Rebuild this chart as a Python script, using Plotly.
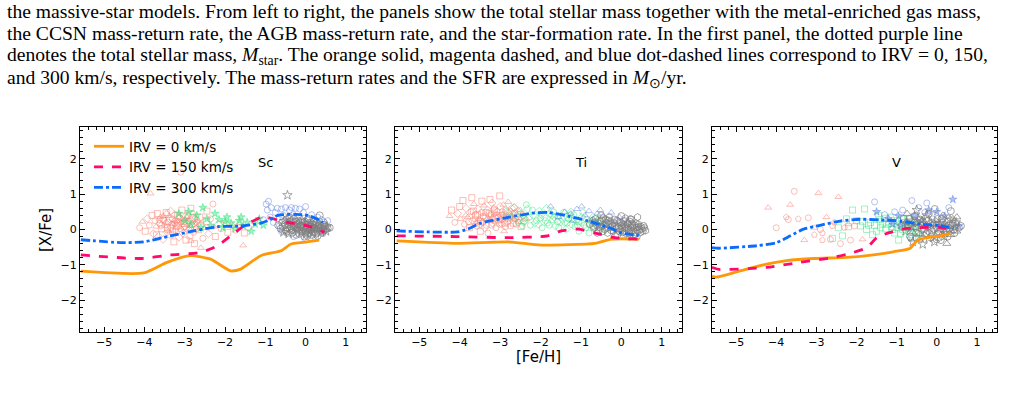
import plotly.graph_objects as go

W, H = 1034, 394

# ---------------- data ----------------
feh_sc_irv0 = [-5.58, -4.02, -3.44, -2.86, -2.36, -1.86, -1.61, -1.11, -0.61, -0.36, -0.11, 0.34]
xfe_sc_irv0 = [-1.18, -1.23, -0.93, -0.74, -0.84, -1.17, -1.12, -0.74, -0.60, -0.41, -0.37, -0.30]
feh_sc_irv150 = [-5.58, -4.10, -3.36, -2.61, -2.19, -1.86, -1.53, -1.11, -0.94, -0.45, 0.05, 0.47]
xfe_sc_irv150 = [-0.72, -0.82, -0.72, -0.65, -0.46, -0.18, 0.10, 0.34, 0.34, 0.20, 0.10, -0.08]
feh_sc_irv300 = [-5.58, -4.60, -4.02, -3.36, -2.77, -2.19, -1.61, -1.11, -0.86, -0.69, -0.28, 0.05, 0.30, 0.43]
xfe_sc_irv300 = [-0.29, -0.37, -0.35, -0.18, -0.04, 0.08, 0.10, 0.18, 0.29, 0.40, 0.43, 0.40, 0.29, 0.20]

feh_ti_irv0 = [-5.56, -4.06, -2.81, -1.98, -0.65, -0.24, 0.43]
xfe_ti_irv0 = [-0.32, -0.39, -0.35, -0.44, -0.39, -0.27, -0.27]
feh_ti_irv150 = [-5.56, -4.06, -2.81, -1.82, -1.49, -1.07, -0.65, -0.16, 0.43]
xfe_ti_irv150 = [-0.18, -0.20, -0.23, -0.18, -0.04, 0.01, -0.10, -0.23, -0.27]
feh_ti_irv300 = [-5.56, -4.06, -3.81, -3.48, -2.81, -2.23, -1.82, -1.32, -0.82, -0.32, 0.01, 0.43]
xfe_ti_irv300 = [-0.04, -0.07, 0.01, 0.18, 0.34, 0.46, 0.48, 0.38, 0.24, 0.06, -0.10, -0.17]

feh_v_irv0 = [-5.60, -5.50, -4.90, -4.24, -3.74, -3.07, -2.24, -1.58, -1.08, -0.66, -0.50, -0.25, 0.08, 0.29, 0.33]
xfe_v_irv0 = [-1.32, -1.35, -1.17, -0.98, -0.88, -0.82, -0.79, -0.72, -0.63, -0.53, -0.32, -0.23, -0.18, -0.13, -0.10]
feh_v_irv150 = [-5.60, -5.43, -4.24, -3.41, -2.58, -2.08, -1.74, -1.49, -1.16, -0.74, -0.25, 0.08, 0.42]
xfe_v_irv150 = [-1.07, -1.13, -1.07, -0.93, -0.79, -0.65, -0.51, -0.23, -0.08, 0.03, 0.06, 0.06, -0.01]
feh_v_irv300 = [-5.60, -5.43, -4.49, -3.99, -3.65, -3.32, -2.91, -2.41, -1.91, -1.41, -0.91, -0.41, 0.08, 0.42]
xfe_v_irv300 = [-0.51, -0.53, -0.46, -0.37, -0.18, 0.01, 0.12, 0.24, 0.29, 0.27, 0.24, 0.15, 0.11, 0.03]

# observational stars, (feh, xfe)
sc_obs_red = [(-4.12,0.05),(-4.05,0.22),(-3.98,-0.05),(-3.93,0.31),(-3.88,0.12),(-3.85,1.02),(-3.81,0.40),(-3.78,-0.12),(-3.74,0.25),(-3.71,0.08),(-3.68,0.45),(-3.65,-0.20),(-3.62,0.18),(-3.60,0.35),(-3.57,0.02),(-3.54,-0.28),(-3.52,0.27),(-3.49,0.10),(-3.46,0.48),(-3.44,-0.08),(-3.41,0.21),(-3.39,0.38),(-3.36,-0.15),(-3.34,0.06),(-3.31,0.30),(-3.29,0.15),(-3.27,-0.35),(-3.24,0.42),(-3.22,0.00),(-3.19,0.24),(-3.17,0.11),(-3.14,-0.22),(-3.12,0.33),(-3.09,0.19),(-3.07,0.55),(-3.04,-0.10),(-3.02,0.07),(-2.99,0.28),(-2.97,-0.30),(-2.94,0.16),(-2.92,0.40),(-2.89,0.03),(-2.87,-0.18),(-2.84,0.26),(-2.82,0.13),(-2.79,0.47),(-2.76,-0.40),(-2.73,0.09),(-2.70,0.20),(-2.66,-0.05),(-2.63,0.35),(-2.59,0.14),(-2.55,-0.25),(-2.51,0.04),(-2.46,0.22),(-2.41,-0.12),(-2.36,0.30),(-2.30,0.08),(-2.24,-0.20),(-2.17,0.15),(-2.10,0.02),(-2.02,0.25),(-1.93,-0.08),(-1.84,0.12),(-1.74,-0.02),(-1.63,0.18),(-1.52,-0.10),(-1.41,0.05),(-3.10,1.62),(-2.60,-0.52),(-2.85,0.60),(-3.55,0.28),(-3.25,0.18),(-2.95,0.35),(-3.70,-0.15),(-3.45,0.44),(-3.15,0.36),(-2.85,-0.32),(-2.45,0.52),(-3.35,0.52),(-2.30,0.72),(-1.55,-0.45),(-3.30,-0.05),(-3.00,0.10),(-2.75,0.30),
              (-3.48,0.20),(-3.43,0.05),(-3.37,0.30),(-3.32,0.14),(-3.26,0.26),(-3.21,0.08),(-3.16,0.20),(-3.11,0.02),(-3.06,0.28),(-3.01,0.17),(-2.96,0.05),(-2.91,0.24),(-2.86,0.10),(-2.81,0.32),(-2.77,0.18),(-2.71,0.02),(-2.67,0.25),(-2.62,0.10),(-3.58,0.12),(-3.63,0.28),(-3.40,-0.05),(-3.18,0.40),(-2.98,0.38),(-2.78,-0.08),(-3.53,0.38)]
sc_obs_green = [(-3.15,0.45),(-3.00,0.25),(-2.85,0.15),(-2.70,0.40),(-2.55,0.62),(-2.45,0.30),(-2.35,0.10),(-2.25,0.45),(-2.15,0.28),(-2.05,0.05),(-1.95,0.35),(-1.85,0.18),(-1.75,0.02),(-1.65,0.25),(-1.55,0.10),(-1.45,0.20),(-1.35,-0.05),(-1.25,0.15),(-1.15,0.30),(-1.05,0.12),(-2.60,0.05),(-1.60,0.35),(-2.90,0.50),(-2.00,0.22)]
sc_obs_blue = [(-0.98,0.72),(-0.95,0.55),(-0.92,0.80),(-0.88,0.35),(-0.85,0.62),(-0.80,0.20),(-0.75,0.48),(-0.70,0.30),(-0.65,0.10),(-0.60,0.58),(-0.55,0.40),(-0.50,0.62),(-0.45,0.25),(-0.40,0.55),(-0.35,0.62),(-0.30,0.42),(-0.25,0.60),(-0.20,0.35),(-0.15,0.58),(-0.10,0.20),(-0.05,0.48),(0.00,0.65),(0.05,0.30),(0.10,-0.10),(0.15,0.42),(0.20,0.15),(0.25,-0.25),(0.30,0.35),(0.35,0.05),(0.40,0.28),(0.45,-0.05),(0.50,0.10),(-0.60,-0.05),(-0.30,-0.20),(0.00,-0.30),(-0.70,0.60),(-1.05,0.28),(0.55,0.25)]
sc_obs_gray = [(-0.68,0.12),(-0.62,0.02),(-0.58,0.20),(-0.55,-0.08),(-0.51,0.15),(-0.48,0.28),(-0.45,0.05),(-0.42,-0.12),(-0.40,0.22),(-0.37,0.10),(-0.34,-0.02),(-0.31,0.18),(-0.29,0.30),(-0.26,0.07),(-0.23,-0.15),(-0.21,0.14),(-0.18,0.25),(-0.16,0.00),(-0.13,0.11),(-0.11,-0.08),(-0.08,0.20),(-0.06,0.05),(-0.03,-0.20),(-0.01,0.16),(0.02,0.02),(0.04,0.26),(0.06,-0.10),(0.09,0.10),(0.11,-0.02),(0.13,0.19),(0.16,-0.15),(0.18,0.06),(0.20,0.22),(0.23,-0.06),(0.25,0.12),(0.28,0.00),(0.30,-0.18),(0.33,0.15),(0.35,0.04),(0.38,-0.08),(0.41,0.10),(0.44,-0.02),(0.47,0.08),(0.51,-0.05),(0.55,0.03),(-0.50,-0.02),(-0.30,0.08),(-0.10,0.12),(0.00,-0.05),(0.15,0.08),(0.27,0.20),(-0.20,-0.05),(0.08,0.30),(-0.40,0.35),(0.45,0.20),(-0.45,0.97),(0.35,0.40),(0.60,0.05),
               (-0.57,0.08),(-0.53,0.24),(-0.47,-0.06),(-0.43,0.16),(-0.39,0.02),(-0.36,0.26),(-0.33,-0.09),(-0.28,0.12),(-0.25,0.22),(-0.22,0.03),(-0.19,0.17),(-0.15,-0.12),(-0.12,0.06),(-0.09,0.27),(-0.07,-0.03),(-0.04,0.09),(-0.02,0.22),(0.01,-0.12),(0.03,0.13),(0.05,0.04),(0.07,0.18),(0.10,-0.06),(0.12,0.07),(0.14,-0.01),(0.17,0.14),(0.19,-0.09),(0.22,0.04),(0.24,0.17),(0.26,-0.12),(0.29,0.08),(0.31,0.10),(0.34,-0.04),(0.36,0.12),(0.39,0.03),(0.42,-0.10),(0.46,0.13),(0.49,0.01),(0.53,0.09),(-0.35,0.05),(0.05,-0.18)]

ti_obs_red = [(-4.25,0.38),(-4.20,0.55),(-4.12,0.20),(-4.05,0.45),(-3.98,0.30),(-3.92,0.82),(-3.88,0.15),(-3.84,0.60),(-3.80,0.35),(-3.76,0.05),(-3.72,0.50),(-3.68,0.25),(-3.65,0.72),(-3.61,0.40),(-3.58,0.10),(-3.55,0.58),(-3.52,0.30),(-3.49,-0.05),(-3.46,0.48),(-3.43,0.20),(-3.40,0.68),(-3.37,0.35),(-3.34,0.12),(-3.31,0.55),(-3.28,0.28),(-3.25,0.85),(-3.22,0.42),(-3.19,0.18),(-3.16,0.62),(-3.13,0.33),(-3.10,0.05),(-3.07,0.50),(-3.04,0.25),(-3.01,0.95),(-2.98,0.40),(-2.95,0.15),(-2.92,0.70),(-2.89,0.30),(-2.86,0.55),(-2.83,0.20),(-2.80,0.78),(-2.77,0.38),(-2.74,0.10),(-2.71,0.60),(-2.68,0.28),(-2.64,0.45),(-2.60,0.15),(-2.56,0.52),(-2.52,0.32),(-2.48,0.08),(-2.44,0.40),(-2.40,0.22),(-2.35,0.30),(-3.70,0.90),(-3.30,-0.10),(-3.00,0.65),(-2.90,-0.05),(-3.45,0.80),(-3.15,0.45),(-2.75,0.50),(-3.60,0.20),(-3.35,0.48),(-3.05,0.35),(-2.65,0.62),(-3.85,0.40),(-4.00,0.65),(-2.95,0.50),(-3.20,0.75),(-2.50,0.55),
              (-3.48,0.22),(-3.42,0.38),(-3.38,0.05),(-3.33,0.28),(-3.27,0.45),(-3.21,0.12),(-3.18,0.32),(-3.12,0.22),(-3.08,0.40),(-3.02,0.15),(-2.97,0.28),(-2.93,0.42),(-2.88,0.18),(-2.84,0.35),(-2.78,0.25),(-2.72,0.40),(-2.67,0.18),(-2.62,0.30),(-2.58,0.38),(-2.54,0.22),(-3.56,0.42),(-3.62,0.30),(-3.50,0.15),(-3.24,0.25),(-3.14,0.55),(-2.87,0.08),(-2.81,0.48),(-2.70,0.35),(-3.66,0.52),(-3.78,0.22)]
ti_obs_green = [(-2.85,0.50),(-2.75,0.35),(-2.65,0.62),(-2.55,0.20),(-2.48,0.45),(-2.40,0.30),(-2.32,0.58),(-2.25,0.12),(-2.18,0.40),(-2.10,0.25),(-2.03,0.52),(-1.96,0.05),(-1.90,0.35),(-1.83,0.18),(-1.76,0.45),(-1.70,0.28),(-1.63,0.10),(-1.56,0.38),(-1.50,0.22),(-1.43,0.48),(-1.37,0.00),(-1.30,0.30),(-1.24,0.15),(-1.18,0.42),(-1.11,0.25),(-1.05,-0.05),(-0.98,0.35),(-0.92,0.12),(-0.86,0.28),(-0.80,-0.10),(-0.73,0.18),(-0.66,0.05),(-0.60,0.22),(-0.52,-0.02),(-0.45,0.12),(-0.38,0.02),(-2.60,0.40),(-2.20,0.55),(-1.85,0.60),(-1.55,0.05),(-1.25,0.50),(-0.95,0.48),(-2.05,0.15),(-1.68,0.50),(-1.40,0.20),(-1.15,0.08),(-0.70,0.35),(-2.45,0.10),(-1.98,0.42),(-1.05,0.22),(-0.55,0.28),(-2.35,0.70),
                (-2.42,0.22),(-2.28,0.35),(-2.14,0.18),(-2.00,0.32),(-1.88,0.25),(-1.78,0.12),(-1.66,0.35),(-1.58,0.22),(-1.47,0.30),(-1.34,0.18),(-1.21,0.30),(-1.09,0.12),(-0.99,0.20),(-0.88,0.05),(-0.77,0.25),(-0.64,0.15),(-1.72,0.40),(-1.28,0.40)]
ti_obs_blue = [(-1.75,0.65),(-1.55,0.35),(-1.40,0.50),(-1.25,0.45),(-1.10,0.58),(-0.98,0.65),(-0.90,0.40),(-0.80,0.52),(-0.70,0.30),(-0.60,0.45),(-0.52,0.55),(-0.45,0.38),(-0.35,0.28),(-0.25,0.48),(-0.15,0.20),(-0.05,0.35),(0.05,0.15),(0.15,0.25),(-1.20,0.25),(-0.40,0.10)]
ti_obs_gray = [(-0.78,0.15),(-0.72,0.25),(-0.68,0.05),(-0.64,0.30),(-0.60,0.12),(-0.56,-0.02),(-0.52,0.22),(-0.48,0.08),(-0.45,0.32),(-0.41,0.00),(-0.38,0.18),(-0.34,-0.10),(-0.31,0.25),(-0.27,0.06),(-0.24,0.15),(-0.20,-0.05),(-0.17,0.28),(-0.13,0.10),(-0.10,-0.15),(-0.06,0.20),(-0.03,0.02),(0.00,0.12),(0.03,-0.08),(0.06,0.25),(0.09,0.05),(0.12,-0.12),(0.15,0.15),(0.18,0.00),(0.21,0.22),(0.24,-0.05),(0.27,0.10),(0.30,-0.15),(0.33,0.05),(0.36,0.18),(0.40,-0.02),(0.43,0.08),(0.47,-0.08),(0.51,0.02),(0.55,0.10),(0.60,-0.03),(-0.50,0.40),(-0.30,0.35),(-0.15,-0.18),(0.10,0.32),(0.25,0.28),(0.40,0.35),(0.38,-0.20),(-0.60,-0.10),(0.00,0.38),(0.20,-0.22),
               (-0.58,0.18),(-0.54,0.06),(-0.49,0.26),(-0.43,0.12),(-0.39,0.28),(-0.36,0.04),(-0.32,0.14),(-0.28,0.22),(-0.25,-0.02),(-0.22,0.10),(-0.18,0.18),(-0.14,0.02),(-0.11,0.25),(-0.08,0.08),(-0.04,-0.06),(-0.01,0.18),(0.02,0.06),(0.05,0.14),(0.08,-0.04),(0.11,0.10),(0.14,0.02),(0.17,0.18),(0.19,-0.10),(0.23,0.06),(0.26,0.16),(0.29,-0.02),(0.32,0.12),(0.35,-0.08),(0.38,0.06),(0.42,0.15),(0.45,0.00),(0.49,0.08),(0.53,-0.04),(-0.66,0.20),(-0.70,0.10),(0.57,0.05),(-0.46,-0.05),(0.22,0.30)]

v_obs_red = [(-4.20,0.62),(-4.00,0.05),(-3.75,0.35),(-3.65,0.70),(-3.55,1.08),(-3.45,0.30),(-3.30,-0.30),(-3.20,0.33),(-3.05,-0.15),(-2.95,1.03),(-2.90,0.00),(-2.85,-0.10),(-2.75,0.35),(-2.65,-0.28),(-2.55,0.20),(-2.45,0.92),(-2.40,-0.40),(-2.30,0.05),(-2.20,0.15),(-2.05,0.10),(-2.85,-0.30),(-3.05,0.05),(-2.15,-0.30),(-2.60,0.10),(-1.85,-0.28),(-3.70,0.28)]
v_obs_green = [(-2.60,-0.25),(-2.45,0.05),(-2.35,-0.18),(-2.20,0.08),(-2.10,0.55),(-2.00,0.25),(-1.90,0.10),(-1.80,0.58),(-1.75,0.00),(-1.65,0.20),(-1.55,0.12),(-1.50,-0.05),(-1.42,0.28),(-1.35,0.15),(-1.28,0.02),(-1.20,0.22),(-1.12,0.08),(-1.05,-0.10),(-0.98,0.25),(-0.92,0.12),(-0.85,0.00),(-0.80,0.20),(-0.74,0.05),(-0.68,-0.15),(-0.62,0.18),(-0.55,0.08),(-0.48,-0.05),(-0.42,0.15),(-1.85,0.22),(-1.45,0.40),(-1.15,0.35),(-0.95,-0.30),(-0.70,0.30),(-2.25,0.30),(-1.60,-0.15),(-1.00,0.05),(-0.60,-0.25),(-1.30,0.32),
               (-1.40,0.05),(-1.25,0.15),(-1.10,0.00),(-0.88,0.30),(-0.78,0.10),(-0.65,0.05),(-0.52,0.20),(-0.45,-0.12),(-1.70,0.12),(-0.90,-0.12)]
v_obs_blue = [(-1.55,0.78),(-1.50,0.50),(-1.30,0.42),(-1.20,0.30),(-1.05,0.50),(-0.95,0.38),(-0.85,0.55),(-0.75,0.20),(-0.62,0.82),(-0.55,0.40),(-0.45,0.62),(-0.38,0.25),(-0.30,0.48),(-0.20,0.55),(-0.10,0.30),(0.00,0.50),(0.10,0.20),(0.20,0.38),(0.30,0.62),(0.40,0.85),(0.50,0.15),(0.55,0.10),(-0.65,-0.25),(-0.90,0.10),(-0.25,0.75),(-1.10,0.15)]
v_obs_gray = [(-0.88,0.10),(-0.82,0.30),(-0.78,-0.05),(-0.74,0.45),(-0.70,0.15),(-0.66,-0.20),(-0.62,0.25),(-0.58,0.05),(-0.55,0.38),(-0.51,-0.10),(-0.48,0.18),(-0.44,-0.30),(-0.41,0.28),(-0.37,0.02),(-0.34,0.15),(-0.30,-0.15),(-0.27,0.32),(-0.23,0.08),(-0.20,-0.25),(-0.16,0.20),(-0.13,-0.02),(-0.10,0.12),(-0.06,-0.35),(-0.03,0.25),(0.00,0.05),(0.03,-0.12),(0.06,0.18),(0.09,-0.02),(0.12,0.30),(0.15,0.08),(0.18,-0.20),(0.21,0.15),(0.24,-0.05),(0.28,0.22),(0.31,0.02),(0.35,-0.15),(0.38,0.12),(0.42,0.00),(0.46,0.08),(0.50,-0.05),(0.55,0.05),(0.60,0.10),(-0.35,-0.42),(0.25,-0.40),(0.35,0.52),(-0.05,0.58),(-0.50,0.55),(0.50,0.35),(-0.20,0.45),(0.10,-0.30),(-0.60,-0.35),(0.40,0.30),
              (-0.72,0.05),(-0.68,0.30),(-0.64,0.10),(-0.60,-0.08),(-0.56,0.20),(-0.52,0.05),(-0.46,0.30),(-0.42,-0.12),(-0.39,0.12),(-0.35,0.22),(-0.32,-0.02),(-0.28,0.10),(-0.25,-0.10),(-0.21,0.25),(-0.18,0.05),(-0.14,-0.15),(-0.11,0.18),(-0.08,0.02),(-0.04,-0.20),(-0.01,0.15),(0.02,0.30),(0.05,-0.05),(0.08,0.10),(0.11,-0.15),(0.14,0.20),(0.17,0.02),(0.20,-0.10),(0.23,0.08),(0.27,-0.20),(0.30,0.12),(0.33,0.28),(0.36,-0.05),(0.40,0.18),(0.44,-0.10),(0.48,0.20),(-0.76,0.22),(-0.50,-0.25),(0.00,-0.28),(-0.25,0.40),(0.15,0.40)]

elements = ["Sc", "Ti", "V"]
legend_labels = ["IRV = 0 km/s", "IRV = 150 km/s", "IRV = 300 km/s"]
xticks = [-5, -4, -3, -2, -1, 0, 1]
yticks = [-2, -1, 0, 1, 2]

caption_lines = [
    "the massive-star models. From left to right, the panels show the total stellar mass together with the metal-enriched gas mass,",
    "the CCSN mass-return rate, the AGB mass-return rate, and the star-formation rate. In the first panel, the dotted purple line",
    "denotes the total stellar mass, <i>M</i><sub>star</sub>. The orange solid, magenta dashed, and blue dot-dashed lines correspond to IRV = 0, 150,",
    "and 300 km/s, respectively. The mass-return rates and the SFR are expressed in <i>M</i><sub>⊙</sub>/yr.",
]

model_lines = [
    [(feh_sc_irv0, xfe_sc_irv0), (feh_sc_irv150, xfe_sc_irv150), (feh_sc_irv300, xfe_sc_irv300)],
    [(feh_ti_irv0, xfe_ti_irv0), (feh_ti_irv150, xfe_ti_irv150), (feh_ti_irv300, xfe_ti_irv300)],
    [(feh_v_irv0, xfe_v_irv0), (feh_v_irv150, xfe_v_irv150), (feh_v_irv300, xfe_v_irv300)],
]
obs = [
    [sc_obs_red, sc_obs_green, sc_obs_blue, sc_obs_gray],
    [ti_obs_red, ti_obs_green, ti_obs_blue, ti_obs_gray],
    [v_obs_red, v_obs_green, v_obs_blue, v_obs_gray],
]

# ---------------- style ----------------
line_colors = ["#FF9808", "#FF0A6A", "#0A6CFF"]
line_dash = ["solid", "dash", "dashdot"]
obs_colors = ["rgba(250,128,114,0.5)", "rgba(40,230,120,0.45)", "rgba(65,105,225,0.40)", "rgba(125,125,125,0.7)"]
obs_symbols = [
    [["circle-open", "triangle-up-open", "square-open", "diamond-open"], ["star"], ["circle-open"], ["circle-open", "circle-open", "circle-open", "star-open"]],
    [["triangle-up-open", "square-open", "circle-open", "diamond-open"], ["diamond-open", "circle-open"], ["triangle-up-open"], ["circle-open", "hexagon-open"]],
    [["triangle-up-open", "circle-open", "pentagon-open"], ["square-open"], ["circle-open", "star"], ["circle-open", "circle-open", "star-open", "triangle-up-open"]],
]
obs_sizes = [6, 6, 6, 7]

panels_x = [(80, 366), (395, 682), (712, 997)]
top, bottom = 127, 332

fig = go.Figure()

for p in range(3):
    ax = "" if p == 0 else str(p + 1)
    xref, yref = "x" + ax, "y" + ax
    for g in range(4):
        pts = obs[p][g]
        syms = obs_symbols[p][g]
        fig.add_trace(go.Scatter(
            x=[a for a, b in pts], y=[b for a, b in pts], mode="markers",
            marker=dict(symbol=[syms[i % len(syms)] for i in range(len(pts))], size=obs_sizes[g],
                        color=obs_colors[g], line=dict(color=obs_colors[g], width=1)),
            showlegend=False, hoverinfo="skip", xaxis=xref, yaxis=yref))
    for k in range(3):
        xs, ys = model_lines[p][k]
        fig.add_trace(go.Scatter(
            x=xs, y=ys, mode="lines", name=legend_labels[k],
            line=dict(color=line_colors[k], width=2.8, dash=line_dash[k], shape="spline", smoothing=0.6),
            showlegend=(p == 0), xaxis=xref, yaxis=yref))

    common = dict(showline=True, linecolor="black", linewidth=1, mirror="allticks",
                  ticks="inside", ticklen=5, tickwidth=1, tickcolor="black",
                  showgrid=False, zeroline=False,
                  tickfont=dict(family="DejaVu Sans", size=11, color="black"))
    x0, x1 = panels_x[p]
    fig.layout["xaxis" + ax] = dict(
        domain=[x0 / W, x1 / W], range=[-5.6, 1.5], tickvals=xticks, anchor=yref,
        minor=dict(ticks="inside", dtick=0.2, tick0=0, ticklen=3, tickcolor="black", showgrid=False), **common)
    fig.layout["yaxis" + ax] = dict(
        domain=[1 - bottom / H, 1 - top / H], range=[-2.9, 2.9], tickvals=yticks, anchor=xref,
        minor=dict(ticks="inside", dtick=0.2, tick0=0, ticklen=3, tickcolor="black", showgrid=False), **common)
    fig.add_annotation(x=-1.0, y=1.9, xref=xref, yref=yref, text=elements[p], showarrow=False,
                       font=dict(family="DejaVu Sans", size=13, color="black"))

fig.add_annotation(x=46 / W, y=1 - 230 / H, xref="paper", yref="paper", text="[X/Fe]", textangle=-90,
                   xanchor="center", yanchor="middle",
                   showarrow=False, font=dict(family="DejaVu Sans", size=15, color="black"))
fig.add_annotation(x=538 / W, y=1 - 357 / H, xref="paper", yref="paper", text="[Fe/H]",
                   xanchor="center", yanchor="middle",
                   showarrow=False, font=dict(family="DejaVu Sans", size=15, color="black"))

for i, t in enumerate(caption_lines):
    fig.add_annotation(x=5 / W, y=1 - (11 + 22.6 * i) / H, xref="paper", yref="paper", text=t,
                       xanchor="left", yanchor="middle", showarrow=False,
                       font=dict(family="Liberation Serif", size=19.6, color="black"))

fig.update_layout(
    width=W, height=H, margin=dict(l=0, r=0, t=0, b=0),
    paper_bgcolor="white", plot_bgcolor="white",
    legend=dict(x=89 / W, y=1 - 131 / H, xanchor="left", yanchor="top", bgcolor="rgba(0,0,0,0)",
                font=dict(family="DejaVu Sans", size=13.5, color="black"), tracegroupgap=0),
)

fig.write_html("out.html")
